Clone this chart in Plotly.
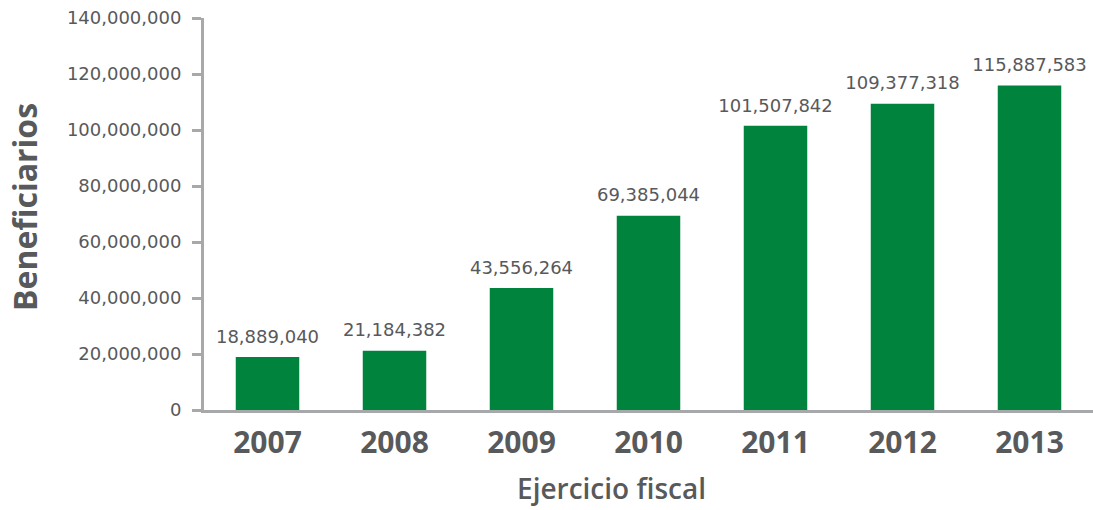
import plotly.graph_objects as go

years = ["2007", "2008", "2009", "2010", "2011", "2012", "2013"]
beneficiarios = [18889040, 21184382, 43556264, 69385044, 101507842, 109377318, 115887583]
y_ticks = [0, 20000000, 40000000, 60000000, 80000000, 100000000, 120000000, 140000000]

GREEN = "#00843D"
TEXT = "#58595B"
AXIS = "#A7A8AA"

fig = go.Figure()
fig.add_trace(go.Bar(
    x=years, y=beneficiarios,
    marker_color=GREEN, marker_line_width=0, width=0.5,
    hoverinfo="x+y",
))
fig.add_trace(go.Scatter(
    x=years, y=beneficiarios,
    mode="markers+text",
    marker=dict(size=14, opacity=0),
    text=[f"{v:,}" for v in beneficiarios],
    textposition="top center", cliponaxis=False,
    textfont=dict(family="DejaVu Sans", size=18, color=TEXT),
    hoverinfo="skip",
))

fig.update_layout(
    width=1093, height=510,
    margin=dict(l=204, r=0, t=18, b=100, autoexpand=False),
    plot_bgcolor="white", paper_bgcolor="white",
    showlegend=False,
    font=dict(family="Open Sans", color=TEXT),
    annotations=[
        dict(text="Beneficiarios", xref="paper", yref="paper", x=-0.2013, y=0.518,
             textangle=-90, showarrow=False, xanchor="center", yanchor="middle",
             font=dict(family="Open Sans", size=32, color=TEXT, weight="bold")),
        dict(text="Ejercicio fiscal", xref="paper", yref="paper", x=0.458, y=-0.2526,
             showarrow=False, xanchor="center", yanchor="bottom",
             font=dict(family="Open Sans", size=28, color=TEXT, weight=600)),
    ],
)
fig.update_xaxes(
    type="category", automargin=False,
    showline=True, linecolor=AXIS, linewidth=3,
    ticks="", showgrid=False, ticklabelstandoff=4,
    tickfont=dict(family="Open Sans", size=30, color=TEXT, weight="bold"),
)
fig.update_yaxes(
    range=[0, 140000000], automargin=False,
    tickvals=y_ticks, ticktext=[f"{v:,}" for v in y_ticks],
    showline=True, linecolor=AXIS, linewidth=3,
    ticks="outside", ticklen=9, tickwidth=3, tickcolor=AXIS,
    showgrid=False, zeroline=False, ticklabelstandoff=7,
    ticklabeloverflow="allow",
    tickfont=dict(family="DejaVu Sans", size=18, color=TEXT),
)

fig.write_html("out.html", config={"displayModeBar": False},
               post_script="document.body.style.margin='0';")
